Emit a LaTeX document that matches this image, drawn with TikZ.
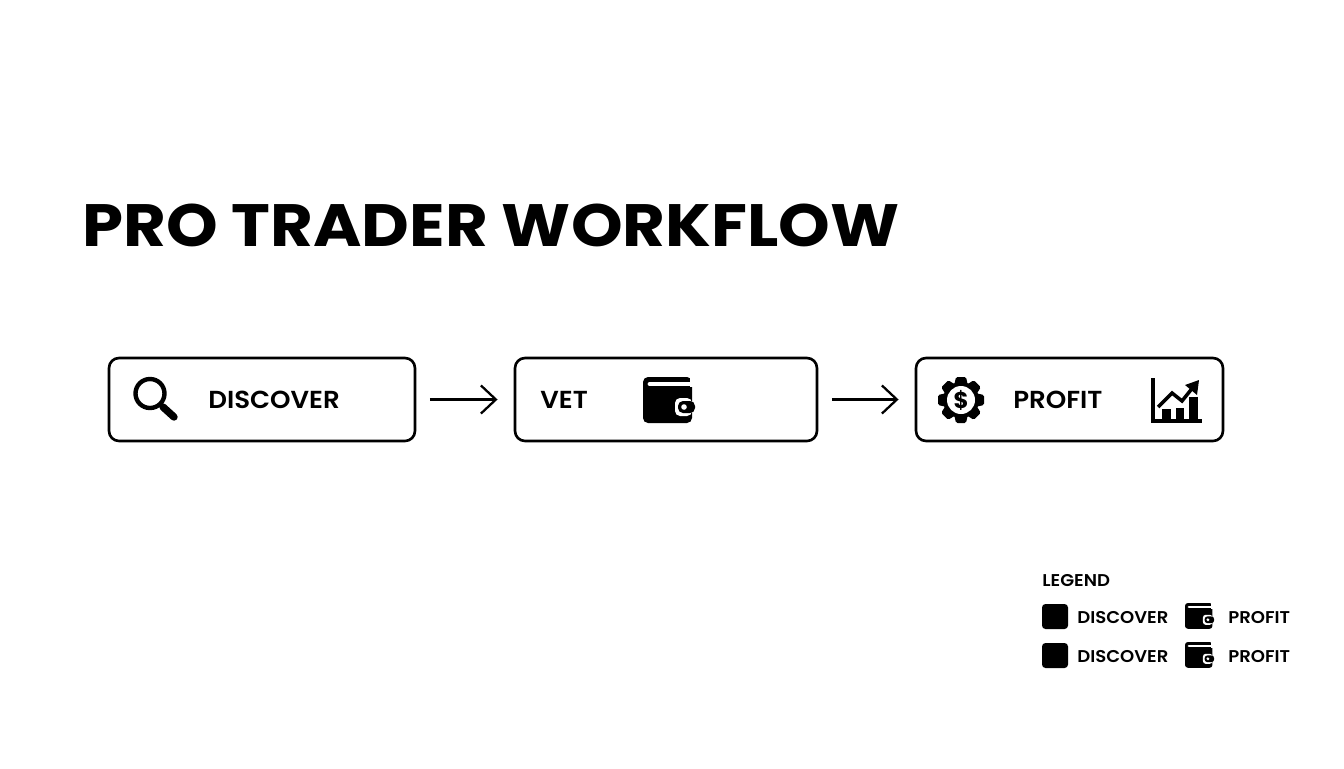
\documentclass[tikz,border=0pt]{standalone}
\usepackage{fontspec}
\setmainfont{Poppins}
\newfontfamily\titlefont[FakeStretch=1.1]{Poppins}
\newfontfamily\labelfont[FakeStretch=1.06]{Poppins SemiBold}
\usetikzlibrary{arrows.meta}

\tikzset{
  stagebox/.style={draw=black, line width=1.5pt, rounded corners=0.2cm, minimum height=1.66cm, outer sep=0pt, inner sep=0pt},
  flow/.style={-{Straight Barb[length=8.5pt,width=16pt,line width=1.3pt]}, line width=1.3pt, shorten <=0.3cm, shorten >=0.35cm},
  stagetext/.style={anchor=west, inner sep=0pt, font=\labelfont\fontsize{14}{14}\selectfont},
  legendtext/.style={anchor=west, inner sep=0pt, font=\labelfont\fontsize{9.7}{10}\selectfont},
}

\begin{document}
\begin{tikzpicture}[x=0.02cm, y=-0.02cm]
\useasboundingbox (0,0) rectangle (1344,768);

\def \wallet(#1,#2,#3) {
  \begin{scope}[shift={(#1,#2)}, scale=#3]
    \fill[black, rounded corners=#3*0.1cm] (0,0) rectangle (49,46);
    \fill[white] (47,-1) rectangle (50,10);
    \draw[white, line width=#3*2.8pt, line cap=round] (48,7)--(7,7);
    \fill[white, rounded corners=#3*0.1cm] (32,21) rectangle (49,39);
    \fill[black, rounded corners=#3*0.1cm] (35,24) rectangle (52,36);
    \fill[white] (41,30) circle (2.8);
  \end{scope}
}

% title
\node[anchor=west, inner sep=0pt, font=\titlefont\fontsize{34}{34}\selectfont\bfseries] (title) at (82,225) {PRO TRADER WORKFLOW};

% stages
\node[stagebox, minimum width=6.12cm] (discover) at (262,399.5) {};
\node[stagebox, minimum width=6.04cm] (vet) at (666,399.5) {};
\node[stagebox, minimum width=6.14cm] (profit) at (1069.5,399.5) {};

\draw[flow] (discover.east)--(vet.west);
\draw[flow] (vet.east)--(profit.west);

\node[stagetext] (discoverlabel) at (208,400) {DISCOVER};
\node[stagetext] (vetlabel) at (540,400) {VET};
\node[stagetext] (profitlabel) at (1013,400) {PROFIT};

% magnifier
\draw[line width=2.5pt] (150,393.5) circle (14.5);
\draw[line width=4.2pt, line cap=round] (163,407)--(174,417);

\wallet(643,377,1)

% gear
\fill[black] (961,400) circle (18);
\foreach \a in {0,45,...,315} {
  \fill[black, rotate around={\a:(961,400)}, rounded corners=0.03cm] (956,377)--(966,377)--(968,386)--(954,386)--cycle;
}
\fill[white] (961,400) circle (14);
\node[inner sep=0pt, font=\fontsize{13}{13}\selectfont\bfseries] (gearsign) at (961,400) {\$};

% chart
\draw[line width=2pt] (1153,378)--(1153,421)--(1202,421);
\foreach \x/\w/\t in {1162/9/409,1176/8/408,1189/9/397} {
  \fill[black] (\x,\t) rectangle (\x+\w,421);
}
\draw[line width=2pt] (1158,407)--(1172,393)--(1182,401)--(1194,386);
\fill[black] (1199,380)--(1197,395)--(1185,385)--cycle;

% legend
\node[legendtext] (legendtitle) at (1042,581) {LEGEND};
\fill[black, rounded corners=0.07cm] (1042,604) rectangle (1068,629);
\fill[black, rounded corners=0.07cm] (1042,643) rectangle (1068,668);
\node[legendtext] (legenddiscovera) at (1077,618) {DISCOVER};
\node[legendtext] (legenddiscoverb) at (1077,657) {DISCOVER};
\wallet(1185,603,0.56)
\wallet(1185,642,0.56)
\node[legendtext] (legendprofita) at (1228,618) {PROFIT};
\node[legendtext] (legendprofitb) at (1228,657) {PROFIT};

\end{tikzpicture}
\end{document}
